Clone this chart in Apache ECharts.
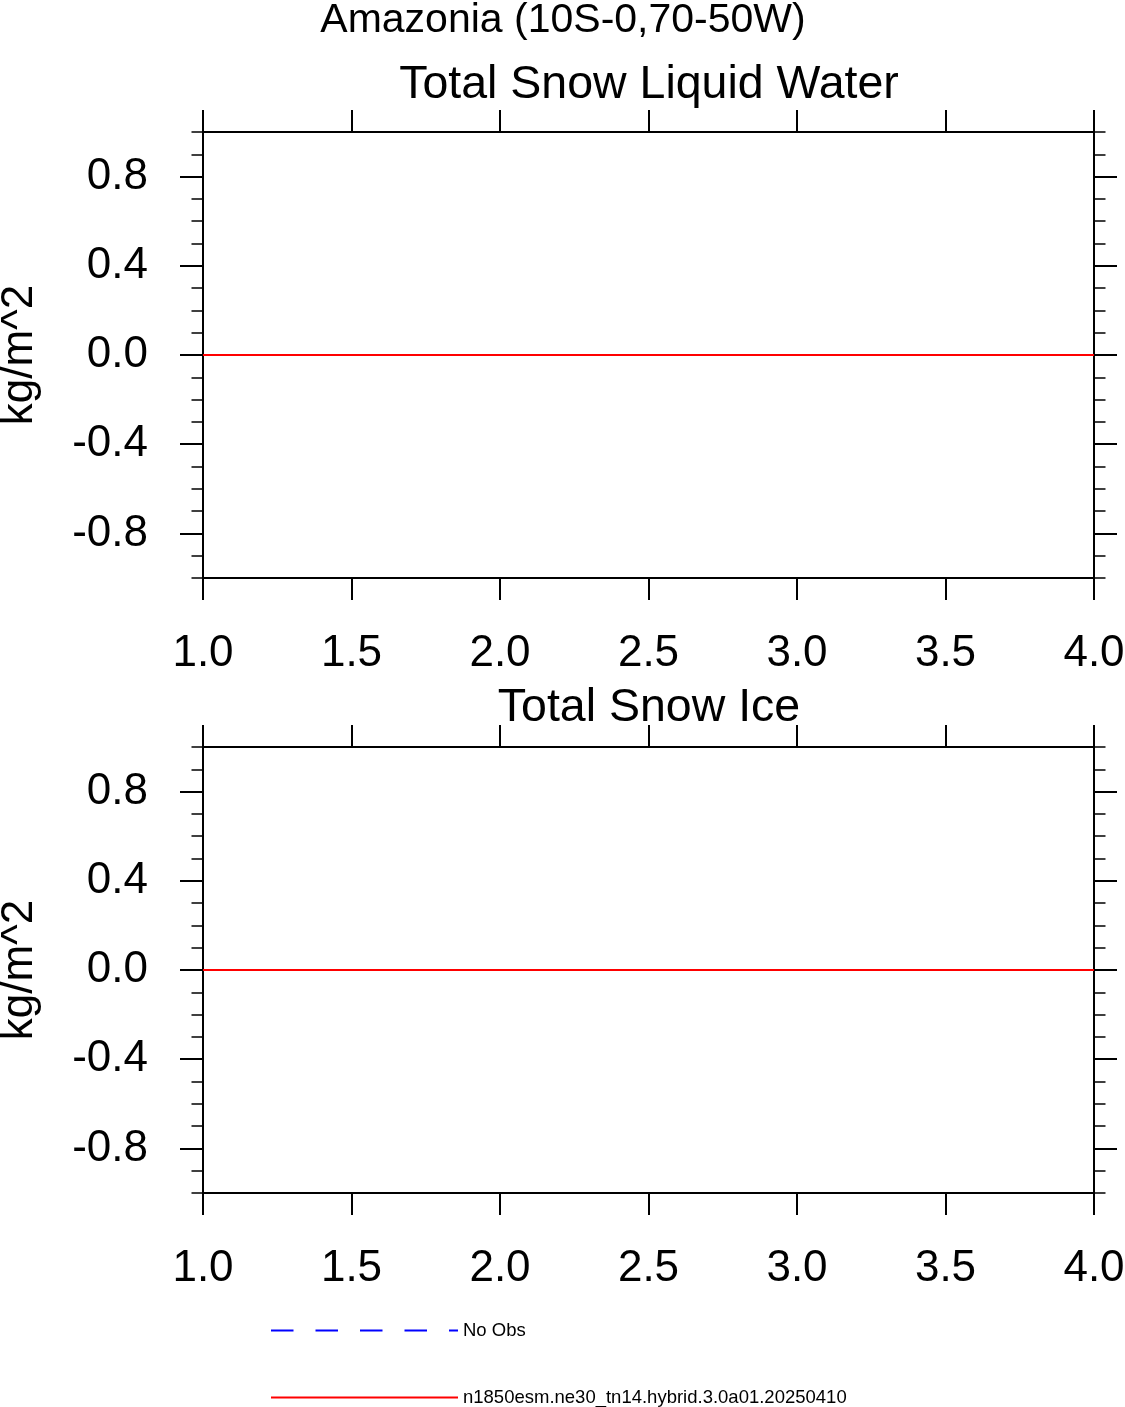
<!DOCTYPE html>
<html>
<head>
<meta charset="utf-8">
<script src="https://cdn.jsdelivr.net/npm/echarts@6/dist/echarts.min.js"></script>
<style>html,body{margin:0;padding:0;background:#fff;}#c{width:1125px;height:1407px;}</style>
</head>
<body>
<div id="c"></div>
<script>
const mainTitle = 'Amazonia (10S-0,70-50W)';
const panelTitles = ['Total Snow Liquid Water', 'Total Snow Ice'];
const yName = 'kg/m^2';
const modelName = 'n1850esm.ne30_tn14.hybrid.3.0a01.20250410';
const obsName = 'No Obs';
const xVals = [1, 2, 3, 4];
const snowLiquid = [0, 0, 0, 0];
const snowIce = [0, 0, 0, 0];
const obsData = [];
const yMajorTicks = [-0.8, -0.4, 0, 0.4, 0.8];

const FONT = 'Liberation Sans';
const chart = echarts.init(document.getElementById('c'), null, {renderer: 'canvas'});

const gridTops = [132, 747];
const grids = gridTops.map(t => ({left: 203, top: t, width: 891, height: 446, containLabel: false, outerBoundsMode: 'none'}));

const xAxes = [];
const yAxes = [];
gridTops.forEach((t, g) => {
  ['bottom', 'top'].forEach(pos => {
    xAxes.push({
      gridIndex: g, type: 'value', position: pos, min: 1, max: 4, interval: 0.5,
      axisLine: {show: true, onZero: false, lineStyle: {color: '#000', width: 2}},
      axisTick: {show: true, inside: false, length: 22, lineStyle: {color: '#000', width: 2}},
      axisLabel: {show: pos === 'bottom', margin: 54, color: '#000', fontSize: 44, fontFamily: FONT, formatter: v => v.toFixed(1)},
      splitLine: {show: false}
    });
  });
  ['left', 'right'].forEach(pos => {
    yAxes.push({
      gridIndex: g, type: 'value', position: pos, min: -1, max: 1,
      name: pos === 'left' ? yName : '',
      nameLocation: 'middle', nameGap: 161,
      nameTextStyle: {color: '#000', fontSize: 44, fontFamily: FONT},
      axisLine: {show: true, onZero: false, lineStyle: {color: '#000', width: 2}},
      axisTick: {show: true, inside: false, length: 23, customValues: yMajorTicks, lineStyle: {color: '#000', width: 2}},
      axisLabel: {show: pos === 'left', margin: 55, color: '#000', fontSize: 44, fontFamily: FONT,
        padding: [6, 0, 0, 0],
        customValues: yMajorTicks, formatter: v => v.toFixed(1)},
      splitLine: {show: false}
    });
    yAxes.push({
      gridIndex: g, type: 'value', position: pos, min: -1, max: 1, interval: 0.1,
      axisLine: {show: false, onZero: false},
      axisTick: {show: true, inside: false, length: 11.5, lineStyle: {color: '#000', width: 1.5}},
      axisLabel: {show: false},
      splitLine: {show: false}
    });
  });
});

const modelSeries = [snowLiquid, snowIce].map((vals, g) => ({
  name: modelName, type: 'line', xAxisIndex: 2 * g, yAxisIndex: 4 * g,
  data: xVals.map((x, i) => [x, vals[i]]),
  symbol: 'none', showSymbol: false,
  lineStyle: {color: '#ff0000', width: 2}, itemStyle: {color: '#ff0000'}
}));

const obsSeries = {
  name: obsName, type: 'line', xAxisIndex: 2, yAxisIndex: 4,
  data: obsData, symbol: 'none', showSymbol: false,
  lineStyle: {color: '#0000ff', width: 1.5, type: [22.5, 22]}, itemStyle: {color: '#0000ff'}
};

const legendBase = {
  orient: 'vertical', left: 270, padding: 0,
  itemWidth: 187, itemHeight: 14, itemGap: 0,
  selectedMode: false,
  itemStyle: {opacity: 0, borderWidth: 0},
  textStyle: {color: '#000', fontSize: 18.5, fontFamily: FONT}
};

chart.setOption({
  animation: false,
  backgroundColor: '#fff',
  textStyle: {fontFamily: FONT},
  title: [
    {text: mainTitle, left: 563, top: 0, padding: 0, textAlign: 'center', textVerticalAlign: 'top',
     textStyle: {color: '#000', fontSize: 41, fontWeight: 'normal', fontFamily: FONT}},
    {text: panelTitles[0], left: 649, top: 62, padding: 0, textAlign: 'center', textVerticalAlign: 'top',
     textStyle: {color: '#000', fontSize: 46.5, fontWeight: 'normal', fontFamily: FONT}},
    {text: panelTitles[1], left: 649, top: 685, padding: 0, textAlign: 'center', textVerticalAlign: 'top',
     textStyle: {color: '#000', fontSize: 46.5, fontWeight: 'normal', fontFamily: FONT}}
  ],
  legend: [
    Object.assign({}, legendBase, {top: 1321, data: [obsName]}),
    Object.assign({}, legendBase, {top: 1388, data: [modelName]})
  ],
  grid: grids,
  xAxis: xAxes,
  yAxis: yAxes,
  series: [...modelSeries, obsSeries]
});
</script>
</body>
</html>
